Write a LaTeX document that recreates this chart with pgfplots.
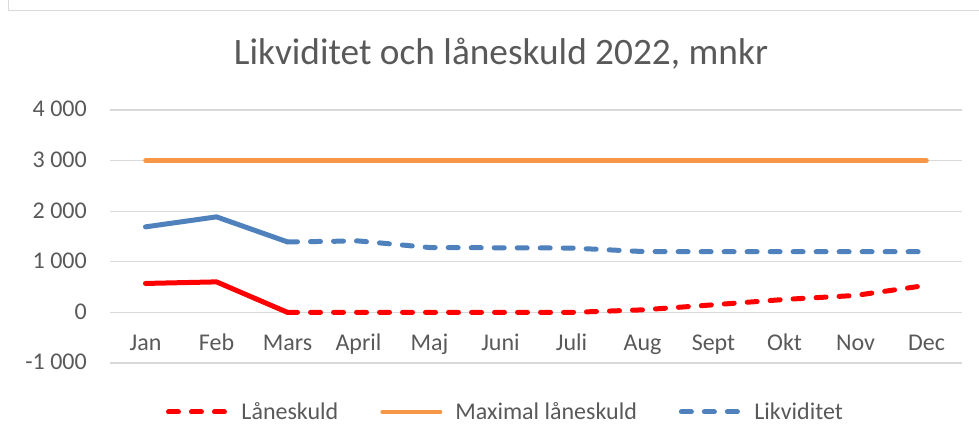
\documentclass[border=0pt]{standalone}
\usepackage{pgfplots}
\pgfplotsset{compat=1.18}
\usepackage{fontspec}
\setmainfont{Carlito}
\definecolor{txt}{HTML}{595959}
\definecolor{gridc}{HTML}{D9D9D9}
\definecolor{lorange}{HTML}{F79646}
\definecolor{lblue}{HTML}{4F81BD}
\definecolor{lred}{HTML}{FF0000}
\pgfplotstableread{
x lane likv max
0 572 1690 3000
1 603 1888 3000
2 0 1393 3000
}\solidtab
\pgfplotstableread{
x lane likv max
2 0 1393 3000
3 0 1412 3000
4 0 1282 3000
5 0 1277 3000
6 0 1272 3000
7 50 1203 3000
8 150 1200 3000
9 256 1200 3000
10 335 1200 3000
11 535 1200 3000
}\dashtab
\pgfplotstableread{
x max
0 3000
1 3000
2 3000
3 3000
4 3000
5 3000
6 3000
7 3000
8 3000
9 3000
10 3000
11 3000
}\maxtab
\begin{document}
\begin{tikzpicture}[x=1bp,y=1bp]
\useasboundingbox (0,0) rectangle (979,446);
\draw[gridc, line width=1.5bp] (8.5,446) -- (8.5,435.5) -- (979,435.5);
\node[anchor=base, text=txt, font=\fontsize{37.3bp}{44bp}\selectfont, inner sep=0pt] at (501,381) {Likviditet och låneskuld 2022, mnkr};
\begin{axis}[
  at={(110bp,83bp)}, anchor=south west,
  scale only axis, width=852bp, height=253bp,
  xmin=-0.5, xmax=11.5, ymin=-1000, ymax=4000,
  xtick={0,...,11},
  xticklabels={Jan,Feb,Mars,April,Maj,Juni,Juli,Aug,Sept,Okt,Nov,Dec},
  ytick={-1000,0,1000,2000,3000,4000},
  yticklabels={{-1 000},{0},{1 000},{2 000},{3 000},{4 000}},
  ymajorgrids, major grid style={gridc, line width=1.3bp},
  axis line style={draw=none},
  major tick length=0pt,
  tick label style={text=txt, font=\fontsize{24bp}{28bp}\selectfont, inner sep=0pt},
  xticklabel style={anchor=base, yshift=12bp},
  yticklabel style={anchor=base east, xshift=-23bp, yshift=-7bp},
  clip=false,
  legend columns=3,
  legend style={at={(0.463,-0.1937)}, anchor=center, draw=none, fill=none,
    font=\fontsize{24bp}{28bp}\selectfont, text=txt, inner sep=0pt,
    nodes={inner sep=0pt},
    /tikz/every even column/.append style={column sep=42bp},
    /tikz/every odd column/.append style={column sep=13bp}},
  legend image code/.code={\draw[#1] (2.5bp,0bp) -- (60bp,0bp);},
  every axis plot/.append style={line width=5bp, line cap=round, line join=round},
  dashd/.style={dash pattern=on 10bp off 13bp},
]
\addplot[lred, forget plot] table[x=x, y=lane] {\solidtab};
\addplot[lblue, forget plot] table[x=x, y=likv] {\solidtab};
\addplot[lred, dashd] table[x=x, y=lane] {\dashtab};
\addlegendentry{Låneskuld}
\addplot[lorange, line width=4.5bp] table[x=x, y=max] {\maxtab};
\addlegendentry{Maximal låneskuld}
\addplot[lblue, dashd] table[x=x, y=likv] {\dashtab};
\addlegendentry{Likviditet}
\end{axis}
\end{tikzpicture}
\end{document}
